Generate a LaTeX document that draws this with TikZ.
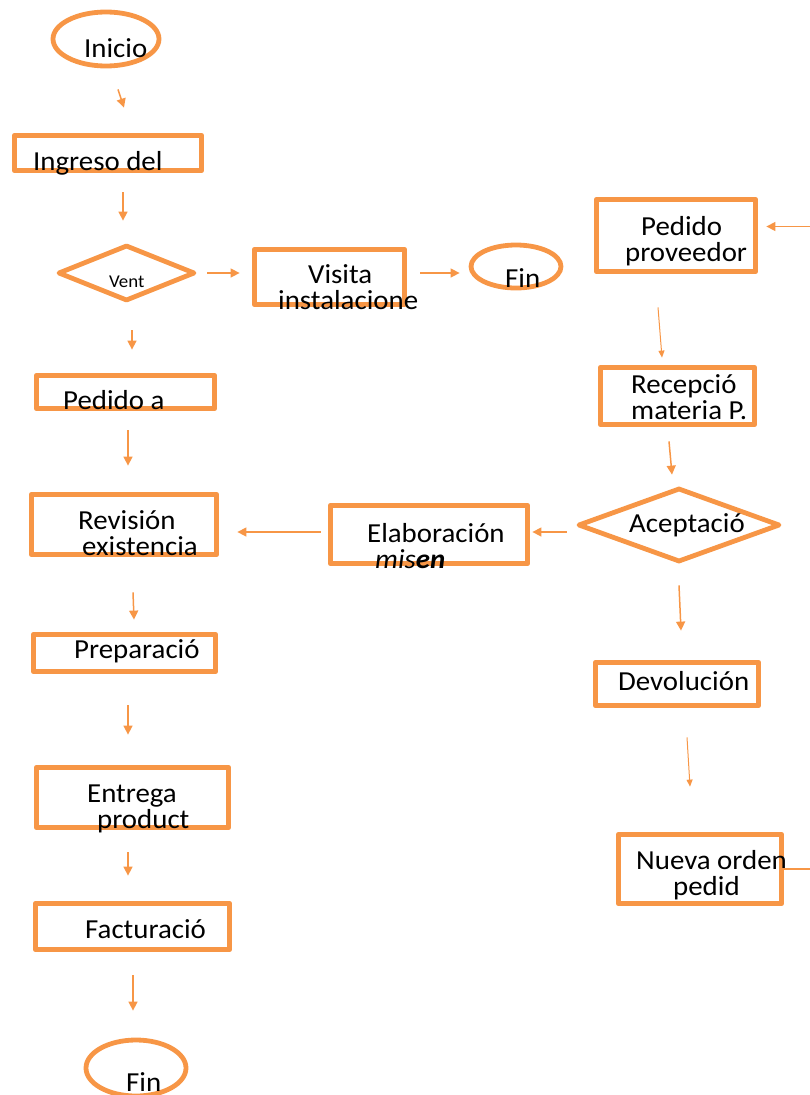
\documentclass[tikz,border=0pt]{standalone}
\usepackage{fontspec}
\setmainfont{Carlito}[FakeStretch=1.05]
\usetikzlibrary{shapes.geometric,arrows.meta}
\definecolor{naranja}{HTML}{F79646}

\begin{document}
\begin{tikzpicture}[x=1pt, y=-1pt, line join=round,
  caja/.style={draw=naranja, line width=4.8pt, inner sep=0pt},
  ovalo/.style={caja, ellipse},
  rombo/.style={caja, diamond},
  texto/.style={inner sep=0pt, anchor=base west, font=\fontsize{27.5}{26}\selectfont},
  flecha/.style={draw=naranja, line width=1.5pt, -{Triangle[length=9pt,width=9pt]}},
  fina/.style={flecha, line width=1pt, -{Triangle[length=7pt,width=6pt]}}]
\useasboundingbox (0,0) rectangle (809,1095);

% columna izquierda
\node[ovalo, minimum width=106pt, minimum height=54pt] (inicio) at (106,39) {};
\node[caja, minimum width=187.5pt, minimum height=35.5pt] (ingreso) at (108,153) {};
\node[rombo, minimum width=137pt, minimum height=56pt] (vent) at (126.5,273) {};
\node[caja, minimum width=150.5pt, minimum height=55.5pt] (visita) at (329.5,277) {};
\node[ovalo, minimum width=90pt, minimum height=43pt] (fin1) at (516,266.5) {};
\node[caja, minimum width=178.5pt, minimum height=33.5pt] (pedidoa) at (125.5,392) {};
\node[caja, minimum width=185.5pt, minimum height=60.5pt] (revision) at (124,524.5) {};
\node[caja, minimum width=182.5pt, minimum height=37.5pt] (prep) at (124.5,653) {};
\node[caja, minimum width=192.5pt, minimum height=60.5pt] (entrega) at (132.5,797.5) {};
\node[caja, minimum width=194.5pt, minimum height=46.5pt] (fact) at (132.5,926.5) {};
\node[ovalo, minimum width=100pt, minimum height=56pt] (fin2) at (136,1068) {};

% columna derecha
\node[caja, minimum width=159.5pt, minimum height=72.5pt] (pedprov) at (676,235.5) {};
\node[caja, minimum width=154.5pt, minimum height=57.5pt] (recep) at (677.5,396) {};
\node[rombo, minimum width=202pt, minimum height=74pt] (acept) at (679,525) {};
\node[caja, minimum width=197.5pt, minimum height=58.5pt] (elab) at (429,534.5) {};
\node[caja, minimum width=163.5pt, minimum height=43.5pt] (devol) at (677,684) {};
\node[caja, minimum width=163.5pt, minimum height=69.5pt] (nueva) at (700,869) {};

% textos
\node[texto] (inicio-t) at (84,57) {Inicio};
\node[texto] (ingreso-t) at (33,170) {Ingreso del};
\node[texto, font=\fontsize{18}{20}\selectfont] (vent-t) at (109,287) {Vent};
\node[texto] (visita-t) at (278,283) {\begin{tabular}[t]{@{}l@{}}\hspace{30pt}Visita\\instalacione\end{tabular}};
\node[texto] (fin1-t) at (505,287) {Fin};
\node[texto] (pedidoa-t) at (63,409) {Pedido a};
\node[texto] (revision-t) at (78,529) {\begin{tabular}[t]{@{}l@{}}Revisión\\\hspace{4pt}existencia\end{tabular}};
\node[texto] (prep-t) at (74,658) {Preparació};
\node[texto] (entrega-t) at (87,802) {\begin{tabular}[t]{@{}l@{}}Entrega\\\hspace{10pt}product\end{tabular}};
\node[texto] (fact-t) at (85,938) {Facturació};
\node[texto] (fin2-t) at (126,1091) {Fin};
\node[texto] (pedprov-t) at (625,235) {\begin{tabular}[t]{@{}l@{}}\hspace{16pt}Pedido\\proveedor\end{tabular}};
\node[texto] (recep-t) at (631,393) {\begin{tabular}[t]{@{}l@{}}Recepció\\materia P.\end{tabular}};
\node[texto] (acept-t) at (629,532) {Aceptació};
\node[texto] (elab-t) at (367,542) {\begin{tabular}[t]{@{}l@{}}Elaboración\\\hspace{8pt}\textit{mis\textbf{en}}\end{tabular}};
\node[texto] (devol-t) at (618,690) {Devolución};
\node[texto] (nueva-t) at (636,869) {\begin{tabular}[t]{@{}l@{}}Nueva orden\\\hspace{37pt}pedid\end{tabular}};

% flechas
\draw[flecha] ([xshift=12pt,yshift=-21pt]inicio.south) -- ([xshift=16pt,yshift=25.25pt]ingreso.north);
\draw[flecha] ([xshift=15pt,yshift=-19.25pt]ingreso.south) -- ([xshift=-3.5pt,yshift=22pt]vent.north);
\draw[flecha] ([xshift=10pt]vent.east) -- ([xshift=-12.25pt,yshift=4pt]visita.west);
\draw[flecha] ([xshift=13.25pt,yshift=4pt]visita.east) -- ([xshift=-9pt,yshift=-6.5pt]fin1.west);
\draw[flecha] ([xshift=5.5pt,yshift=-27pt]vent.south) -- ([xshift=6.5pt,yshift=23.25pt]pedidoa.north);
\draw[flecha] ([xshift=2.5pt,yshift=-19.25pt]pedidoa.south) -- ([xshift=4pt,yshift=26.25pt]revision.north);
\draw[flecha] ([xshift=-7.25pt,yshift=2.5pt]elab.west) -- ([xshift=18.25pt,yshift=-7.5pt]revision.east);
\draw[flecha] ([xshift=9pt,yshift=-35.25pt]revision.south) -- ([xshift=9.5pt,yshift=12.25pt]prep.north);
\draw[flecha] ([xshift=3.5pt,yshift=-31.25pt]prep.south) -- ([xshift=-4.5pt,yshift=30.25pt]entrega.north);
\draw[flecha] ([xshift=-4.5pt,yshift=-22.25pt]entrega.south) -- ([xshift=-4.5pt,yshift=25.25pt]fact.north);
\draw[flecha] ([xshift=0.5pt,yshift=-23.25pt]fact.south) -- ([xshift=-3pt,yshift=27pt]fin2.north);
\draw[fina] ([xshift=-18pt,yshift=-33.25pt]pedprov.south) -- ([xshift=-15.5pt,yshift=7.25pt]recep.north);
\draw[flecha] ([xshift=-8.5pt,yshift=-14.25pt]recep.south) -- ([xshift=-7pt,yshift=11pt]acept.north);
\draw[flecha] ([xshift=-9pt,yshift=-7pt]acept.west) -- ([xshift=2.25pt,yshift=2.5pt]elab.east);
\draw[flecha] ([yshift=-21pt]acept.south) -- ([xshift=4pt,yshift=29.25pt]devol.north);
\draw[fina] ([xshift=10pt,yshift=-29.25pt]devol.south) -- ([xshift=-10pt,yshift=45.25pt]nueva.north);
\draw[flecha] ([xshift=-4.75pt]nueva.east) -- ++(60,0) |- ([xshift=8.25pt,yshift=9pt]pedprov.east);
\end{tikzpicture}
\end{document}
